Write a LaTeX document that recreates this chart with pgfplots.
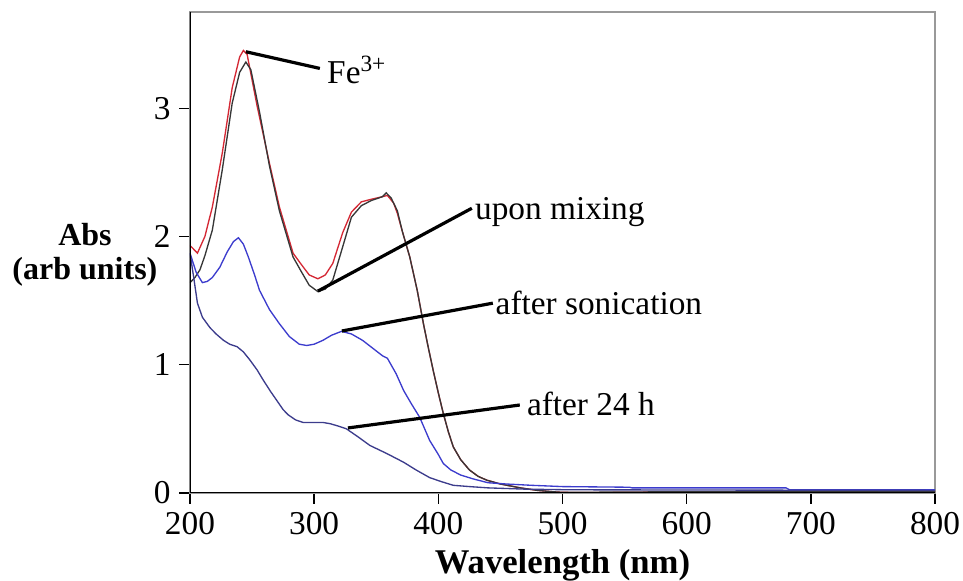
\documentclass[border=0pt]{standalone}
\usepackage{fontspec}
\setmainfont{Liberation Serif}
\usepackage{pgfplots}
\pgfplotsset{compat=1.18}

\definecolor{feRed}{RGB}{212,40,52}
\definecolor{mixGray}{RGB}{55,55,55}
\definecolor{sonBlue}{RGB}{60,60,205}
\definecolor{dayBlue}{RGB}{60,60,140}

\begin{document}
\begin{tikzpicture}[x=1pt,y=1pt]
\useasboundingbox (-142.5,-66) rectangle (579.75,369.75);
\begin{axis}[
    at={(0,0)}, anchor=south west,
    scale only axis, width=558.75pt, height=360.75pt,
    xmin=200, xmax=800, ymin=0, ymax=3.75,
    xtick={200,300,...,800}, ytick={0,1,2,3},
    tick pos=left, tick align=outside,
    major tick length=8pt,
    axis line style={line width=1pt, gray!80},
    every tick/.style={black, line width=1pt},
    tick label style={font=\fontsize{25}{28}\selectfont},
    xticklabel style={yshift=-3pt},
    yticklabel style={xshift=-3pt},
    /pgf/number format/assume math mode=true,
    xlabel={Wavelength (nm)},
    xlabel style={font=\fontsize{26}{28}\selectfont\bfseries,
        at={(axis description cs:0.5,0)}, anchor=base, yshift=-60pt},
    ylabel={Abs\\(arb units)},
    ylabel style={font=\fontsize{24}{26}\selectfont\bfseries, rotate=-90,
        align=center, at={(axis description cs:-0.141,0.495)}, anchor=center},
    every axis plot/.append style={line width=1pt},
]
% Fe3+
\addplot[feRed] coordinates {
(200,1.93) (206,1.87) (212,2.00) (218,2.23) (226,2.65) (234,3.16) (240,3.40)
(243,3.45) (246,3.42) (254,3.02) (264,2.57) (272,2.23) (283,1.87) (289,1.79)
(296,1.70) (303,1.67) (309,1.70) (315,1.79) (323,2.03) (330,2.19) (338,2.27)
(346,2.29) (355,2.31) (359,2.32) (364,2.26) (367,2.18) (371,2.04) (377,1.84)
(383,1.58) (388,1.32) (392,1.13) (396,0.95) (400,0.78) (404,0.62) (408,0.48)
(412,0.36) (418,0.26) (425,0.18) (432,0.13) (439,0.10) (450,0.07) (466,0.04)
(480,0.02) (492,0.01) (500,0.005) (520,0.003) (560,0.006) (600,0.01) (700,0.01)
(800,0.01)
};
% upon mixing
\addplot[mixGray] coordinates {
(200,1.64) (204,1.68) (208,1.74) (212,1.85) (218,2.05) (226,2.52) (234,3.04)
(240,3.28) (245,3.36) (249,3.30) (256,2.97) (264,2.55) (272,2.20) (283,1.84)
(290,1.72) (296,1.62) (303,1.57) (309,1.59) (315,1.66) (323,1.92) (330,2.15)
(338,2.24) (346,2.28) (355,2.31) (358,2.34) (362,2.30) (367,2.20) (371,2.04)
(377,1.84) (383,1.58) (388,1.32) (392,1.13) (396,0.95) (400,0.78) (404,0.62)
(408,0.48) (412,0.36) (418,0.26) (425,0.18) (432,0.13) (439,0.10) (450,0.07)
(466,0.04) (480,0.02) (492,0.01) (500,0.005) (600,0.01) (800,0.01)
};
% after sonication
\addplot[sonBlue] coordinates {
(200,1.87) (205,1.72) (210,1.64) (214,1.65) (218,1.68) (224,1.76) (230,1.88)
(235,1.96) (239,1.99) (243,1.94) (247,1.84) (252,1.70) (256,1.58) (264,1.43)
(272,1.32) (280,1.22) (288,1.16) (294,1.15) (300,1.16) (307,1.19) (314,1.23)
(322,1.26) (330,1.24) (339,1.19) (347,1.13) (355,1.07) (359,1.05) (366,0.93)
(372,0.80) (378,0.70) (385,0.59) (393,0.41) (400,0.30) (404,0.23) (410,0.18)
(418,0.14) (428,0.11) (440,0.08) (455,0.07) (475,0.06) (500,0.05) (554,0.045)
(556,0.04) (680,0.04) (683,0.025) (800,0.025)
};
% after 24 h
\addplot[dayBlue] coordinates {
(200,1.87) (203,1.68) (206,1.48) (210,1.37) (216,1.29) (221,1.24) (227,1.19)
(232,1.16) (238,1.14) (243,1.10) (248,1.04) (254,0.96) (259,0.88) (265,0.79)
(270,0.72) (275,0.65) (279,0.61) (285,0.57) (291,0.55) (300,0.55) (307,0.55)
(313,0.54) (320,0.52) (326,0.50) (335,0.44) (345,0.37) (358,0.31) (372,0.24)
(382,0.18) (393,0.12) (402,0.09) (412,0.06) (425,0.05) (440,0.04) (470,0.03)
(506,0.025) (800,0.02)
};
% left and bottom axis lines in black
\draw[black, line width=1pt] (rel axis cs:0,1) -- (rel axis cs:0,0) -- (rel axis cs:1,0);
% annotations
\draw[line width=2.4pt] (axis cs:245,3.44) -- (axis cs:304.6,3.31);
\node[anchor=base west, inner sep=0pt, font=\fontsize{25}{28}\selectfont]
    at (axis cs:310.3,3.196) {Fe\textsuperscript{3+}};
\draw[line width=2.4pt] (axis cs:303,1.574) -- (axis cs:427,2.22);
\node[anchor=base west, inner sep=0pt, font=\fontsize{25}{28}\selectfont]
    at (axis cs:429.4,2.13) {upon mixing};
\draw[line width=2.4pt] (axis cs:322.3,1.263) -- (axis cs:443.9,1.48);
\node[anchor=base west, inner sep=0pt, font=\fontsize{25}{28}\selectfont]
    at (axis cs:446,1.395) {after sonication};
\draw[line width=2.4pt] (axis cs:327.2,0.507) -- (axis cs:465.6,0.686);
\node[anchor=base west, inner sep=0pt, font=\fontsize{25}{28}\selectfont]
    at (axis cs:471.2,0.608) {after 24 h};
\end{axis}
\end{tikzpicture}
\end{document}
